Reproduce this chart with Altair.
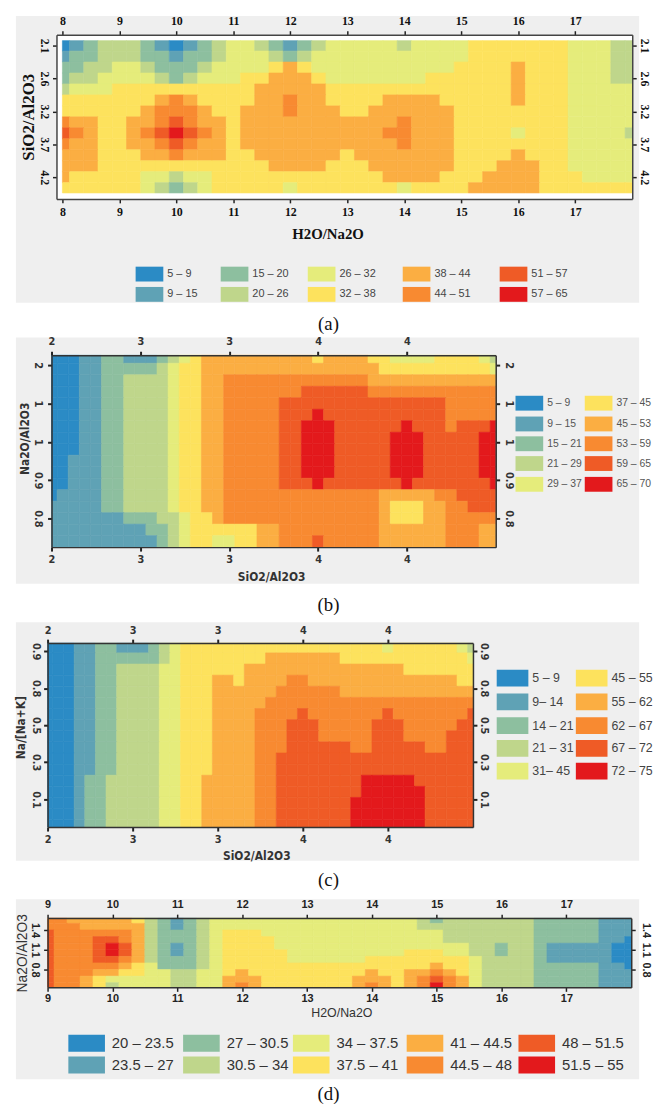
import altair as alt
import pandas as pd

GRAY = "#efefef"
SERIF = "Liberation Serif, Times New Roman, serif"
SANS = "Liberation Sans, Arial, Helvetica, sans-serif"
NARROW = "Liberation Sans Narrow, Arial Narrow, DejaVu Sans Condensed, sans-serif"

COLORS = ["#2b8bc5", "#5fa2b5", "#8dbf9f", "#bfd68b", "#e5ec7b",
          "#fde25d", "#fbae42", "#f88a31", "#ef5b26", "#e3191c"]

# ---------------- panel (a) ----------------
A_LABELS = ["5 – 9", "9 – 15", "15 – 20", "20 – 26", "26 – 32",
            "32 – 38", "38 – 44", "44 – 51", "51 – 57", "57 – 65"]
A_XTICKS = [8, 9, 10, 11, 12, 13, 14, 15, 16, 17]
A_YTICKS = [2.1, 2.625, 3.15, 3.675, 4.2]
A_ROWS = [
    "0123332101" "2344321234" "4444344445" "5555554443" "3",
    "1223332212" "2344432344" "4444444445" "5555554443" "3",
    "2233443222" "3444456544" "4444444455" "5565554443" "3",
    "2334444323" "4445566654" "4444445555" "5565554443" "3",
    "3444555555" "5555666665" "5555555555" "5565554444" "4",
    "5555555676" "5555667665" "5556666555" "5565554444" "4",
    "5555556777" "6556667666" "5566666655" "5555554444" "4",
    "7665566787" "6656666666" "6666766655" "5555554444" "4",
    "8765567898" "7656666666" "6667766655" "5545554444" "3",
    "7665566787" "6656666666" "6666766655" "5555554444" "4",
    "6665556676" "6655666666" "5666666655" "5565554444" "4",
    "6665555555" "5555566665" "5566666655" "5666554444" "4",
    "6555554434" "4555555555" "5556666555" "6666555444" "4",
    "5555554323" "4555554555" "5555455556" "6666555555" "5",
]

# ---------------- panel (b) ----------------
B_LABELS = ["5 – 9", "9 – 15", "15 – 21", "21 – 29", "29 – 37",
            "37 – 45", "45 – 53", "53 – 59", "59 – 65", "65 – 70"]
B_XTICKS = [2, 2.5, 3, 3.5, 4]
B_YTICKS = [0.8, 0.9, 1.0, 1.1, 1.2]
B_ROWS = [
    "0001122111" "2345666666" "6666566665" "5444455554" "3",
    "0001122222" "3455666666" "6666666666" "5555555555" "4",
    "0001122333" "3455667777" "7777777776" "6666666666" "6",
    "0001122333" "3455667777" "7778888887" "7777777777" "7",
    "0001122333" "3455667777" "7888888888" "8888887777" "7",
    "0001122333" "3455667777" "7888988888" "8888887777" "7",
    "0001122333" "3455667777" "7889998888" "8898887888" "9",
    "0001122333" "3455667777" "7889998888" "8999888889" "9",
    "0001122333" "3455667777" "7889998888" "8999888889" "9",
    "0011122333" "3455667777" "7889998888" "8999888889" "9",
    "0011122333" "3455667777" "7889998888" "8999888889" "9",
    "0011122333" "3455667777" "7888988888" "8898888888" "9",
    "0111122333" "3455667777" "7777777777" "6666677888" "8",
    "1111122333" "3455667777" "7777777777" "6555667788" "8",
    "1111111222" "3345567777" "7777777777" "6555667777" "7",
    "1111111112" "2345555556" "6777777777" "6666667776" "6",
    "1111111111" "2345544556" "6777877777" "6666667776" "6",
]

# ---------------- panel (c) ----------------
C_LABELS = ["5 – 9", "9– 14", "14 – 21", "21 – 31", "31– 45",
            "45 – 55", "55 – 62", "62 – 67", "67 – 72", "72 – 75"]
C_XTICKS = [2, 2.5, 3, 3.5, 4]
C_YTICKS = [0.1, 0.3, 0.5, 0.7, 0.9]
C_ROWS = [
    "0001122111" "2345555555" "5555555555" "5545555554" "3",
    "0001122222" "2345555555" "5666666655" "5555555555" "4",
    "0001122333" "3445555556" "6666666666" "6666555555" "5",
    "0001122333" "3445556656" "6667766666" "6666666665" "5",
    "0001122333" "3445556666" "6677777766" "6666666666" "6",
    "0001122333" "3445556666" "6777777777" "7777777777" "7",
    "0001122333" "3445556666" "7777877777" "7787777777" "8",
    "0001122333" "3445556666" "7778887777" "7888777778" "8",
    "0001122333" "3445556666" "7778887777" "7888777788" "8",
    "0001122333" "3445556666" "7778888887" "7888887788" "8",
    "0001122333" "3445556666" "7788888888" "8888888888" "8",
    "0001122333" "3445556666" "7788888888" "8888888888" "8",
    "0001223333" "3445566666" "7788888888" "9999988888" "8",
    "0001223333" "3445566666" "7788888888" "9999998888" "8",
    "0001223333" "3445566666" "7788888889" "9999998888" "8",
    "0001223333" "3445566666" "7788888889" "9999998888" "8",
    "0001223333" "3445566666" "7788888889" "9999998888" "8",
]

# ---------------- panel (d) ----------------
D_LABELS = ["20 – 23.5", "23.5 – 27", "27 – 30.5", "30.5 – 34", "34 – 37.5",
            "37.5 – 41", "41 – 44.5", "44.5 – 48", "48 – 51.5", "51.5 – 55"]
D_XTICKS = [9, 10, 11, 12, 13, 14, 15, 16, 17]
D_YTICKS = [0.8, 1.1, 1.4]
D_ROWS = [
    "7766666532" "1234444444" "4444444443" "2333333322" "222111",
    "7776666632" "1234444444" "4444444443" "3333333322" "222111",
    "8777777632" "2234555444" "4444444444" "4333333322" "222111",
    "8777887632" "2234555544" "4444444444" "4333333322" "222110",
    "8777898632" "1234555544" "4444444444" "4443323321" "111100",
    "8777898632" "1234555554" "4444444455" "5443323321" "111100",
    "8777887632" "2234555554" "4444455555" "5554333321" "111100",
    "8777776542" "2234555555" "5555555555" "6554333322" "222110",
    "8777665544" "3344565555" "5555565566" "7654333322" "222111",
    "8776544444" "3344666555" "5555666567" "8764333322" "222111",
    "8776534444" "3344676555" "5555676567" "9764333322" "222111",
]

ONE = pd.DataFrame({"k": [0]})


def cells(rows, labels, g):
    recs = []
    hy = abs(g["dy"]) / 2
    for k, row in enumerate(rows):
        yc = g["y0"] + g["dy"] * k
        ya, yb = max(yc - hy, g["ylo"]), min(yc + hy, g["yhi"])
        for c, ch in enumerate(row):
            xc = g["x0"] + g["dx"] * c
            xa, xb = max(xc - g["dx"] / 2, g["xlo"]), min(xc + g["dx"] / 2, g["xhi"])
            recs.append({"x": xa, "x2": xb, "y": ya, "y2": yb, "band": labels[int(ch)]})
    return pd.DataFrame(recs)


def value_rect(color, x0, x1, y0, y1):
    return alt.Chart(ONE).mark_rect(color=color).encode(
        x=alt.value(x0), x2=alt.value(x1), y=alt.value(y0), y2=alt.value(y1))


def panel(p):
    W, H, o = p["W"], p["H"], p["off"]   # o = left offset of the frame inside the column
    x0d, x1d = p["xdom"]
    y0d, y1d = p["ydom"]
    xs = alt.Scale(domain=p["xdom"], range=[o, W + o], nice=False, zero=False)
    ys = alt.Scale(domain=p["ydom"], nice=False, zero=False, reverse=p["yrev"])
    cs = alt.Scale(domain=p["labels"], range=COLORS)

    def px2x(px):
        return x0d + px / W * (x1d - x0d)

    def px2y(py):
        if p["yrev"]:
            return y0d + py / H * (y1d - y0d)
        return y1d - py / H * (y1d - y0d)

    st = p["style"]
    base = dict(grid=False, zindex=1, domainColor=st["domain"], domainWidth=st["dw"],
                tickColor=st["tick"], tickWidth=st["tw"], tickSize=4,
                labelFont=st["font"], labelFontSize=st["size"], labelFontWeight=st["weight"],
                labelColor=st["color"], labelFlush=False, labelOverlap=False)
    xl = {"labelExpr": p["xexpr"]} if p.get("xexpr") else {}
    yl = {"labelExpr": p["yexpr"]} if p.get("yexpr") else {}
    xt, yt = p["xt"], p["yt"]
    pads = p["pads"]  # top, bottom, left, right
    ax_b = alt.Axis(orient="bottom", values=p["xticks"], labelPadding=pads[1],
                    title=xt["text"], titleX=xt["x"] + o, titleY=xt["y"], titleFont=xt["font"],
                    titleFontSize=xt["size"], titleFontWeight=xt["weight"], titleColor=xt["color"],
                    titleAlign="center", titleBaseline="middle", titleAngle=0, **base, **xl)
    ax_t = alt.Axis(orient="top", values=p["xticks"], labelPadding=pads[0], title=None, **base, **xl)
    left_off = {"offset": -o} if o else {}
    ax_l = alt.Axis(orient="left", values=p["yticks"], labelPadding=pads[2], labelAngle=90,
                    labelAlign="center", labelBaseline="top",
                    title=yt["text"], titleX=yt["x"], titleY=yt["y"], titleFont=yt["font"],
                    titleFontSize=yt["size"], titleFontWeight=yt["weight"], titleColor=yt["color"],
                    titleAlign="center", titleBaseline="middle", titleAngle=270,
                    **left_off, **base, **yl)
    ax_r = alt.Axis(orient="right", values=p["yticks"], labelPadding=pads[3], labelAngle=90,
                    labelAlign="center", labelBaseline="bottom", title=None, **base, **yl)

    bx0, bx1, by0, by1 = p["bg"]
    layers = []
    if p.get("anchor"):
        ax, ay = p["anchor"]
        layers.append(value_rect("white", ax, ax + 1, ay, ay + 1))
    layers.append(value_rect(GRAY, bx0, bx1, by0, by1))
    if p["white"]:
        layers.append(value_rect("white", o, W + o, 0, H))

    df = cells(p["rows"], p["labels"], p["grid"])
    layers.append(alt.Chart(df).mark_rect(strokeWidth=0.6).encode(
        x=alt.X("x:Q", scale=xs, axis=ax_b), x2=alt.X2("x2"),
        y=alt.Y("y:Q", scale=ys, axis=ax_l), y2=alt.Y2("y2"),
        color=alt.Color("band:N", scale=cs, legend=None),
        stroke=alt.Stroke("band:N", scale=cs, legend=None)))

    L = p["legend"]
    leg = []
    for i, lab in enumerate(p["labels"]):
        col, row = divmod(i, L["nrows"])
        lx, ly = L["cols"][col], L["rows"][row]
        leg.append({"x": px2x(lx), "x2": px2x(lx + L["w"]), "y": px2y(ly), "y2": px2y(ly + L["h"]),
                    "tx": px2x(lx + L["w"] + L["gap"]), "ty": px2y(ly + L["h"] / 2), "band": lab})
    ldf = pd.DataFrame(leg)
    layers.append(alt.Chart(ldf).mark_rect().encode(
        x=alt.X("x:Q", scale=xs, axis=None), x2=alt.X2("x2"),
        y=alt.Y("y:Q", scale=ys, axis=None), y2=alt.Y2("y2"),
        color=alt.Color("band:N", scale=cs, legend=None)))
    layers.append(alt.Chart(ldf).mark_text(align="left", baseline="middle", font=L["font"],
                                           fontSize=L["size"], color=L["color"]).encode(
        x=alt.X("tx:Q", scale=xs, axis=None), y=alt.Y("ty:Q", scale=ys, axis=None), text="band:N"))

    layers.append(alt.Chart(pd.DataFrame({"x": [x0d], "y": [y0d]})).mark_point(opacity=0, size=1).encode(
        x=alt.X("x:Q", scale=xs, axis=ax_t), y=alt.Y("y:Q", scale=ys, axis=ax_r)))

    cx, cy = p["cap_xy"]
    layers.append(alt.Chart(ONE).mark_text(text=p["caption"], font=SERIF, fontSize=19, color="#111",
                                           align="center", baseline="middle").encode(
        x=alt.value(cx), y=alt.value(cy)))

    return alt.layer(*layers).resolve_axis(x="independent", y="independent").properties(
        width=W + o, height=H)


def spacer(h):
    return alt.Chart(ONE).mark_point(opacity=0, size=1).encode(
        x=alt.value(0), y=alt.value(0)).properties(width=1, height=h)


STYLE_A = dict(font=SERIF, size=12, weight="bold", color="#111", domain="#444", dw=1.5, tick="#222", tw=1.5)
STYLE_BC = dict(font=NARROW, size=11, weight="bold", color="#333", domain="#333", dw=1.5, tick="#222", tw=2)
STYLE_D = dict(font=SANS, size=11, weight="bold", color="#222", domain="#333", dw=1.5, tick="#222", tw=1.5)

# Column origin is page x=47; panel rows start at page y = 27, 351, 642, 920.
# Frames: a at x 56 (offset 9), b at x 51 (offset 4), c and d at x 47.
PA = dict(W=582, H=166, off=9, xdom=[7.896, 18], ydom=[1.926, 4.547], yrev=True, white=True,
          rows=A_ROWS, labels=A_LABELS, xticks=A_XTICKS, yticks=A_YTICKS,
          grid=dict(x0=8, dx=0.25, xlo=8, xhi=18, y0=2.1, dy=0.175, ylo=2.021, yhi=4.452),
          style=STYLE_A, xexpr=None, yexpr="format(datum.value + 0.001, '.1f')",
          pads=[3, 4, 3, 1],
          xt=dict(text="H2O/Na2O", x=274, y=35, font=SERIF, size=15, weight="bold", color="#111"),
          yt=dict(text="SiO2/Al2O3", x=-28, y=83, font=SERIF, size=17, weight="bold", color="#111"),
          bg=[-32, 598, -19, 271], anchor=(-39, -19),
          legend=dict(cols=[80, 166, 254, 350, 448], rows=[234.5, 255], w=28, h=15, gap=4,
                      nrows=2, font=SANS, size=11, color="#444"),
          caption="(a)", cap_xy=(284, 293))

PB = dict(W=449, H=194, off=4, xdom=[2, 4.5], ydom=[0.725, 1.226], yrev=False, white=False,
          rows=B_ROWS, labels=B_LABELS, xticks=B_XTICKS, yticks=B_YTICKS,
          grid=dict(x0=2, dx=0.0625, xlo=2, xhi=4.5, y0=1.22, dy=-0.03, ylo=0.725, yhi=1.226),
          style=STYLE_BC, xexpr="'' + round(datum.value)",
          yexpr="datum.value > 1.15 ? '2' : (datum.value > 0.95 ? '1' : format(datum.value, '.1f'))",
          pads=[5, 3, 4, 4],
          xt=dict(text="SiO2/Al2O3", x=222, y=30, font=NARROW, size=12, weight="bold", color="#333"),
          yt=dict(text="Na2O/Al2O3", x=-27, y=84, font=NARROW, size=12, weight="bold", color="#333"),
          bg=[-32, 598, -18, 231],
          legend=dict(cols=[469, 539], rows=[41, 62, 82, 102, 123], w=28, h=15, gap=4,
                      nrows=5, font=SANS, size=10.5, color="#555"),
          caption="(b)", cap_xy=(284, 253))

PC = dict(W=430, H=186, off=0, xdom=[2, 4.5], ydom=[-0.05, 0.943], yrev=False, white=False,
          rows=C_ROWS, labels=C_LABELS, xticks=C_XTICKS, yticks=C_YTICKS,
          grid=dict(x0=2, dx=0.0625, xlo=2, xhi=4.5, y0=0.92, dy=-0.06, ylo=-0.05, yhi=0.943),
          style=STYLE_BC, xexpr="'' + round(datum.value)",
          yexpr="abs(datum.value - 0.7) < 0.01 ? '0.8' : format(datum.value, '.1f')",
          pads=[4, 3, 2, 2],
          xt=dict(text="SiO2/Al2O3", x=211, y=29, font=NARROW, size=12, weight="bold", color="#333"),
          yt=dict(text="Na/[Na+K]", x=-27, y=85, font=NARROW, size=12, weight="bold", color="#333"),
          bg=[-32, 598, -21, 220],
          legend=dict(cols=[454, 534], rows=[27, 51, 75, 98, 121], w=32, h=17, gap=4,
                      nrows=5, font=SANS, size=12.5, color="#444"),
          caption="(c)", cap_xy=(284, 240))

PD = dict(W=590, H=70, off=0, xdom=[9, 18], ydom=[0.53, 1.58], yrev=False, white=False,
          rows=D_ROWS, labels=D_LABELS, xticks=D_XTICKS, yticks=D_YTICKS,
          grid=dict(x0=9, dx=0.2, xlo=9, xhi=18, y0=1.55, dy=-0.1, ylo=0.53, yhi=1.58),
          style=STYLE_D, xexpr=None, yexpr="format(datum.value, '.1f')",
          pads=[5, 1, 3, 5],
          xt=dict(text="H2O/Na2O", x=297, y=25, font=SANS, size=12.5, weight="normal", color="#333"),
          yt=dict(text="Na2O/Al2O3", x=-25, y=35, font=SANS, size=14, weight="normal", color="#333"),
          bg=[-32, 598, -19, 163],
          legend=dict(cols=[21, 137, 248, 363, 476], rows=[118, 140], w=37, h=17, gap=7,
                      nrows=2, font=SANS, size=15, color="#333"),
          caption="(d)", cap_xy=(284, 178))

chart = alt.vconcat(panel(PA), spacer(158), panel(PB), spacer(97), panel(PC), spacer(92), panel(PD),
                    spacing=0, bounds="flush").resolve_scale(
    color="independent", stroke="independent").properties(
    padding={"left": 0, "top": 0, "right": 0, "bottom": 0}).configure_view(stroke="transparent")

chart.save("out.html", embed_options={"renderer": "svg", "actions": False})
